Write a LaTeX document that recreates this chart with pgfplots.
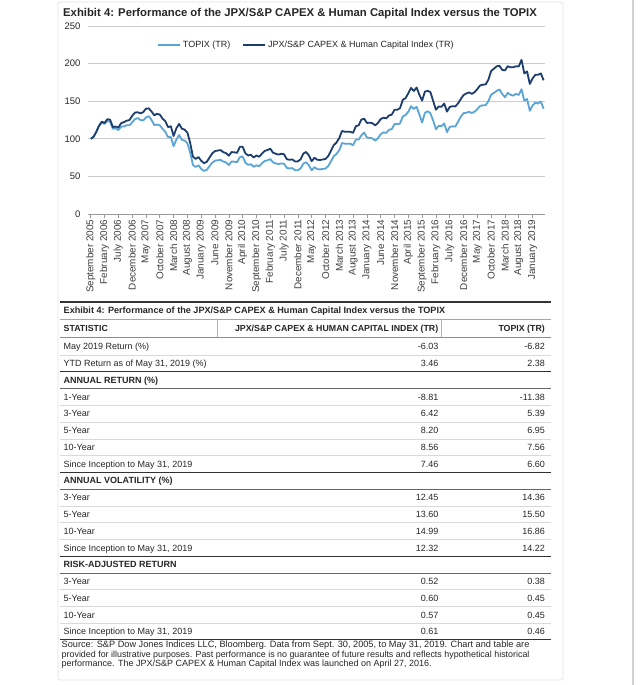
\documentclass[border=0pt]{standalone}
\usepackage{fontspec}
\setmainfont{Liberation Sans}
\usepackage{pgfplots}
\usepackage{pgfplotstable}
\pgfplotsset{compat=1.18}
\definecolor{jpx}{HTML}{1C3D6E}
\definecolor{topix}{HTML}{5AA5D6}
\definecolor{txt}{HTML}{262626}
\newcommand{\tf}{\fontsize{9}{10}\selectfont}
\newcommand{\hf}{\fontsize{8.8}{10}\selectfont}
\pgfplotstableread{
i L D
0 100.0 100.0
1 102.5 102.5
2 109.1 109.1
3 117.4 117.4
4 121.6 122.8
5 119.8 121.0
6 123.6 126.1
7 122.9 125.4
8 113.3 115.6
9 114.0 116.3
10 111.6 114.9
11 116.2 120.8
12 116.3 122.1
13 118.1 124.0
14 117.9 125.0
15 122.0 130.5
16 126.1 134.9
17 127.6 135.3
18 125.0 133.8
19 124.3 135.5
20 128.4 140.0
21 130.1 140.5
22 125.1 136.4
23 118.2 131.2
24 119.0 133.3
25 118.0 132.2
26 113.2 126.8
27 109.2 123.4
28 102.2 115.5
29 102.3 116.6
30 90.2 103.7
31 99.0 113.9
32 105.1 119.8
33 98.6 113.4
34 97.6 112.2
35 94.1 108.2
36 81.7 94.8
37 65.2 76.3
38 62.6 73.2
39 64.8 75.8
40 60.0 70.8
41 57.3 67.6
42 58.7 69.3
43 63.6 75.0
44 68.3 80.6
45 70.9 83.7
46 71.5 84.4
47 72.0 85.0
48 69.7 82.2
49 68.6 80.9
50 65.1 77.5
51 69.8 82.4
52 69.5 82.0
53 69.0 81.4
54 75.7 89.3
55 76.5 89.5
56 68.3 80.6
57 65.4 77.8
58 66.2 78.8
59 62.7 75.2
60 64.8 77.8
61 63.4 76.1
62 67.5 80.3
63 70.5 83.9
64 71.5 85.1
65 73.0 86.9
66 68.6 81.6
67 67.3 80.1
68 66.4 79.0
69 67.3 80.1
70 66.8 79.5
71 61.3 72.9
72 60.6 72.1
73 61.0 72.6
74 58.2 69.8
75 58.3 70.0
76 60.6 72.7
77 67.1 80.5
78 68.7 82.4
79 64.8 77.8
80 58.1 70.3
81 62.3 74.8
82 59.7 72.2
83 59.3 71.8
84 59.9 72.5
85 60.4 73.1
86 63.7 77.1
87 70.2 84.2
88 76.9 91.5
89 79.9 95.1
90 84.9 101.0
91 94.4 110.4
92 93.5 109.4
93 93.5 109.4
94 93.4 109.3
95 91.5 108.0
96 98.9 116.7
97 99.1 117.9
98 104.6 125.5
99 108.4 126.8
100 101.8 121.1
101 101.2 121.4
102 100.6 120.7
103 97.4 117.9
104 100.8 121.0
105 106.1 126.3
106 108.6 128.1
107 107.8 127.2
108 112.0 131.0
109 112.9 132.1
110 119.5 138.6
111 119.5 138.6
112 120.3 140.8
113 129.8 151.9
114 131.6 154.0
115 136.1 160.6
116 143.3 167.7
117 139.8 163.6
118 142.5 168.2
119 132.2 158.6
120 121.6 150.8
121 134.5 162.7
122 136.6 163.9
123 134.0 162.1
124 124.2 150.3
125 112.7 138.6
126 117.2 143.0
127 116.8 142.5
128 120.4 146.9
129 108.9 136.1
130 115.8 142.4
131 116.6 143.4
132 116.2 142.9
133 122.6 147.1
134 129.5 152.8
135 134.1 158.2
136 134.6 160.2
137 136.0 161.8
138 134.2 159.7
139 136.1 162.0
140 139.6 166.1
141 143.7 171.0
142 144.5 172.0
143 144.7 172.2
144 150.1 178.6
145 158.5 190.2
146 161.1 193.3
147 163.7 196.4
148 165.6 197.1
149 159.7 191.6
150 155.3 191.0
151 161.1 196.5
152 158.6 195.1
153 157.4 195.2
154 159.7 196.4
155 158.3 196.3
156 166.0 205.0
157 150.7 186.9
158 152.9 189.6
159 137.2 172.9
160 144.2 180.3
161 148.1 185.1
162 146.9 185.1
163 149.5 186.9
164 140.0 177.8
}\perf
\newcommand{\trow}[4]{%
  \node[anchor=base west] at (63.5pt,-#1pt) {\tf #2};
  \node[anchor=base east] at (438.5pt,-#1pt) {\tf #3};
  \node[anchor=base east] at (545pt,-#1pt) {\tf #4};}
\newcommand{\thead}[2]{\node[anchor=base west] at (63.5pt,-#1pt) {\tf\bfseries #2};}
\newcommand{\hl}[3]{\draw[#2] (60pt,-#1pt) -- (551pt,-#1pt);}
\begin{document}
\begin{tikzpicture}
\path[use as bounding box] (0pt,0pt) rectangle (640pt,-685pt);
\fill[white] (0pt,0pt) rectangle (640pt,-685pt);
\draw[black!10, line width=0.8pt, rounded corners=2pt] (58pt,-2pt) rectangle (563pt,-680pt);
\draw[black!18, line width=2.5pt] (633pt,0pt) -- (633pt,-685pt);
\node[anchor=base west, inner sep=0pt, text=txt, font=\bfseries\fontsize{11.3}{13}\selectfont] at (63pt,-16.5pt) {Exhibit 4: Performance of the JPX/S\&P CAPEX \& Human Capital Index versus the TOPIX};
\begin{axis}[
  at={(88pt,-214pt)}, anchor=south west,
  scale only axis, width=457pt, height=188pt,
  xmin=-1, xmax=164.5, ymin=0, ymax=250,
  axis lines*=left,
  y axis line style={draw=none},
  x axis line style={black!40, line width=0.8pt},
  ytick={0,50,...,250},
  ymajorgrids, grid style={black!20, line width=0.8pt},
  ytick style={draw=none},
  xtick={0,5,...,160},
  xticklabels={September 2005, February 2006, July 2006, December 2006, May 2007, October 2007, March 2008, August 2008, January 2009, June 2009, November 2009, April 2010, September 2010, February 2011, July 2011, December 2011, May 2012, October 2012, March 2013, August 2013, January 2014, June 2014, November 2014, April 2015, September 2015, February 2016, July 2016, December 2016, May 2017, October 2017, March 2018, August 2018, January 2019},
  tick align=outside, major tick length=4pt,
  xtick style={black!40, line width=0.6pt},
  x tick label style={rotate=90, anchor=east, font=\fontsize{9.9}{11}\selectfont, text=black!75, inner sep=1.5pt},
  y tick label style={font=\fontsize{9.5}{10}\selectfont, text=txt},
  /pgf/number format/assume math mode=true,
  legend style={at={(0.478,0.899)}, anchor=center, draw=none, fill=none, legend columns=2,
    font=\fontsize{9}{10}\selectfont, text=txt,
    /tikz/every even column/.append style={column sep=10pt}},
  legend cell align=left,
  legend image code/.code={\draw[#1] (0pt,0pt) -- (22pt,0pt);},
]
\addplot[topix, line width=1.8pt, line join=round] table[x=i, y=L] {\perf};
\addlegendentry{TOPIX (TR)}
\addplot[jpx, line width=1.8pt, line join=round] table[x=i, y=D] {\perf};
\addlegendentry{JPX/S\&P CAPEX \& Human Capital Index (TR)}
\end{axis}
\begin{scope}[every node/.style={inner sep=0pt, text=txt}]
\hl{302}{black!80, line width=1.2pt}{}
\node[anchor=base west, font=\bfseries\fontsize{9.1}{10}\selectfont] at (63.5pt,-313.3pt) {Exhibit 4: Performance of the JPX/S\&P CAPEX \& Human Capital Index versus the TOPIX};
\hl{319.5}{black!35, line width=1.2pt}{}
\node[anchor=base west] at (63.5pt,-331.4pt) {\hf\bfseries STATISTIC};
\node[anchor=base east] at (438.5pt,-331.4pt) {\hf\bfseries JPX/S\&P CAPEX \& HUMAN CAPITAL INDEX (TR)};
\node[anchor=base east] at (545pt,-331.4pt) {\hf\bfseries TOPIX (TR)};
\draw[black!30, line width=0.9pt] (217pt,-319.5pt) -- (217pt,-337.5pt);
\draw[black!30, line width=0.9pt] (441pt,-319.5pt) -- (441pt,-337.5pt);
\hl{337.5}{black!45, line width=1pt}{}
\trow{349.8}{May 2019 Return (\%)}{-6.03}{-6.82}
\hl{355.1}{black!15, line width=0.8pt}{}
\trow{366.6}{YTD Return as of May 31, 2019 (\%)}{3.46}{2.38}
\hl{371.8}{black!80, line width=1.2pt}{}
\thead{383.3}{ANNUAL RETURN (\%)}
\hl{388.6}{black!60, line width=0.9pt}{}
\trow{400.1}{1-Year}{-8.81}{-11.38}
\hl{405.4}{black!15, line width=0.8pt}{}
\trow{416.8}{3-Year}{6.42}{5.39}
\hl{422.1}{black!15, line width=0.8pt}{}
\trow{433.6}{5-Year}{8.20}{6.95}
\hl{438.9}{black!15, line width=0.8pt}{}
\trow{450.4}{10-Year}{8.56}{7.56}
\hl{455.6}{black!15, line width=0.8pt}{}
\trow{467.1}{Since Inception to May 31, 2019}{7.46}{6.60}
\hl{472.4}{black!80, line width=1.2pt}{}
\thead{483.9}{ANNUAL VOLATILITY (\%)}
\hl{489.2}{black!60, line width=0.9pt}{}
\trow{500.7}{3-Year}{12.45}{14.36}
\hl{506.0}{black!15, line width=0.8pt}{}
\trow{517.4}{5-Year}{13.60}{15.50}
\hl{522.7}{black!15, line width=0.8pt}{}
\trow{534.2}{10-Year}{14.99}{16.86}
\hl{539.5}{black!15, line width=0.8pt}{}
\trow{551.0}{Since Inception to May 31, 2019}{12.32}{14.22}
\hl{556.3}{black!80, line width=1.2pt}{}
\thead{567.7}{RISK-ADJUSTED RETURN}
\hl{573.0}{black!60, line width=0.9pt}{}
\trow{584.5}{3-Year}{0.52}{0.38}
\hl{589.8}{black!15, line width=0.8pt}{}
\trow{601.3}{5-Year}{0.60}{0.45}
\hl{606.5}{black!15, line width=0.8pt}{}
\trow{618.0}{10-Year}{0.57}{0.45}
\hl{623.3}{black!15, line width=0.8pt}{}
\trow{634.8}{Since Inception to May 31, 2019}{0.61}{0.46}
\hl{639.5}{black!80, line width=1.2pt}{}
\node[anchor=base west] at (61.5pt,-647.8pt) {\fontsize{9.2}{10}\selectfont Source: S\&P Dow Jones Indices LLC, Bloomberg. Data from Sept. 30, 2005, to May 31, 2019. Chart and table are};
\node[anchor=base west] at (61.5pt,-657pt) {\fontsize{8.9}{10}\selectfont provided for illustrative purposes. Past performance is no guarantee of future results and reflects hypothetical historical};
\node[anchor=base west] at (61.5pt,-666.2pt) {\fontsize{9}{10}\selectfont performance. The JPX/S\&P CAPEX \& Human Capital Index was launched on April 27, 2016.};
\end{scope}
\end{tikzpicture}
\end{document}
